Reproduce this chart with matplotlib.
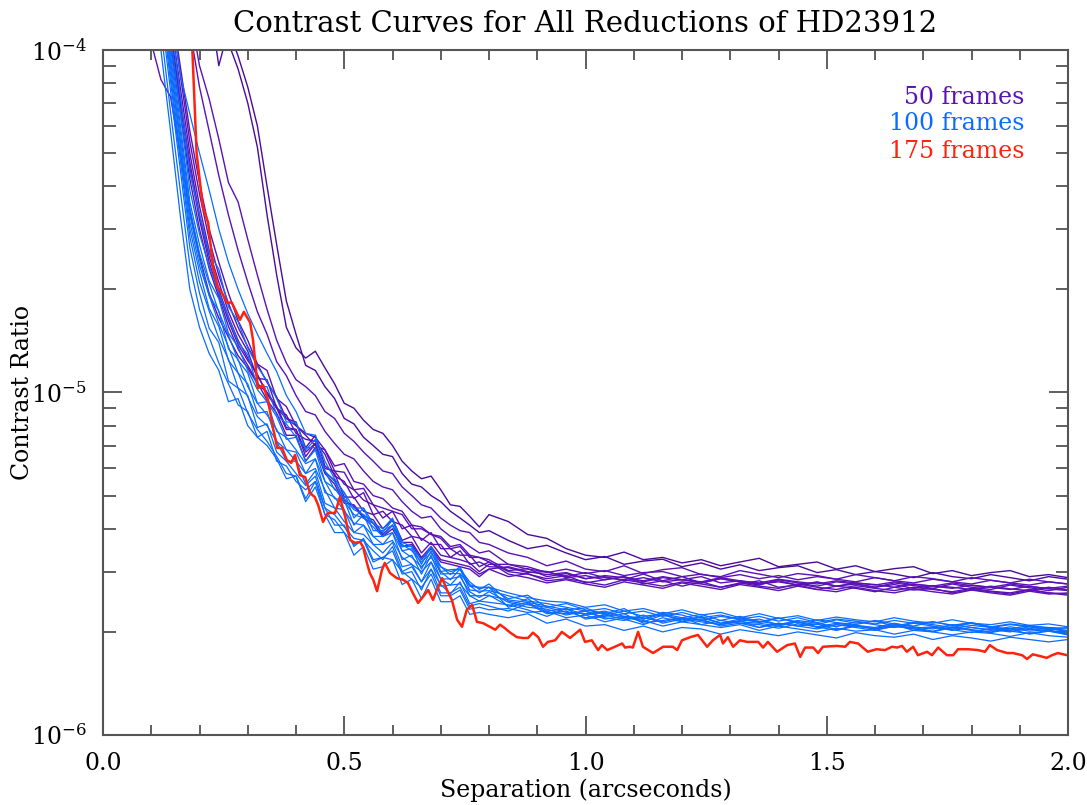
import matplotlib
matplotlib.use("Agg")
import matplotlib.pyplot as plt
import numpy as np
from matplotlib.ticker import FixedLocator, NullFormatter, FixedFormatter

# ---------------- data (contrast in units of 1e-6) ----------------
sep_grid = [0.10, 0.12, 0.14, 0.16, 0.18, 0.20, 0.22, 0.24, 0.26, 0.28, 0.30, 0.32,
            0.34, 0.36, 0.38, 0.40, 0.42, 0.44, 0.46, 0.48, 0.50, 0.52, 0.54, 0.56,
            0.58, 0.60, 0.62, 0.64, 0.66, 0.68, 0.70, 0.72, 0.74, 0.76, 0.78, 0.80,
            0.84, 0.88, 0.92, 0.96, 1.00, 1.04, 1.08, 1.12, 1.16, 1.20, 1.24, 1.28,
            1.32, 1.36, 1.40, 1.44, 1.48, 1.52, 1.56, 1.60, 1.64, 1.68, 1.72, 1.76,
            1.80, 1.84, 1.88, 1.92, 1.96, 2.00]

# 50 frames reductions
p50_01 = [500, 450, 400, 350, 300, 250, 200, 150, 105, 88, 70, 52, 33, 22, 15.5, 13.5, 12.6, 13.2, 11.8, 10.6, 9.3, 9.0, 8.3, 7.8, 7.6, 7.0, 6.3, 5.9, 5.6, 5.7, 5.2, 4.7, 4.65, 4.35, 4.05, 4.4,
          4.2, 3.85, 3.75, 3.5, 3.35, 3.3, 3.42, 3.25, 3.3, 3.18, 3.25, 3.12, 3.2, 3.28, 3.1, 3.15, 3.2, 3.05, 3.12, 3.0, 3.06, 3.1, 2.96, 3.02, 2.92, 2.98, 3.02, 2.9, 2.94, 2.88]
p50_02 = [500, 450, 400, 330, 260, 200, 140, 90, 115, 96, 78, 60, 40, 27, 18.5, 14.8, 12.0, 11.6, 10.4, 9.6, 8.4, 8.1, 7.4, 7.0, 6.6, 6.5, 5.8, 5.4, 5.3, 5.0, 4.8, 4.5, 4.3, 4.1, 3.9, 3.95,
          3.7, 3.5, 3.58, 3.4, 3.25, 3.32, 3.15, 3.22, 3.26, 3.1, 3.18, 3.05, 3.14, 3.02, 3.08, 3.12, 2.98, 3.04, 2.94, 3.0, 2.95, 2.88, 2.98, 2.9, 2.86, 2.94, 2.88, 2.82, 2.9, 2.85]
p50_03 = [400, 320, 250, 190, 130, 90, 72, 55, 41, 36, 28, 22, 17.5, 14.2, 12.2, 10.9, 10.4, 9.8, 8.8, 8.4, 7.6, 7.2, 6.7, 6.3, 5.9, 5.8, 5.3, 5.0, 4.7, 4.6, 4.3, 4.1, 3.95, 3.9, 3.65, 3.6,
          3.4, 3.3, 3.12, 3.22, 3.05, 3.0, 3.12, 2.96, 3.04, 3.08, 2.94, 2.9, 3.02, 2.95, 2.88, 2.96, 2.92, 2.85, 2.94, 2.88, 2.82, 2.9, 2.86, 2.8, 2.88, 2.83, 2.78, 2.85, 2.8, 2.76]
p50_04 = [350, 280, 210, 160, 115, 78, 58, 43, 33, 26, 21, 17.2, 14.8, 12.3, 11.2, 9.8, 8.8, 8.6, 7.7, 7.1, 6.6, 6.4, 5.9, 5.5, 5.3, 5.2, 4.8, 4.5, 4.3, 4.35, 4.0, 3.8, 3.7, 3.55, 3.4, 3.45,
          3.15, 3.05, 3.0, 2.9, 2.98, 2.88, 2.84, 2.95, 2.82, 2.9, 2.78, 2.86, 2.8, 2.74, 2.84, 2.78, 2.72, 2.8, 2.76, 2.7, 2.78, 2.73, 2.68, 2.76, 2.7, 2.66, 2.74, 2.69, 2.64, 2.7]
p50_05 = [105, 82, 73, 50, 34, 25, 19.5, 16.5, 14.5, 12.8, 11.8, 10.6, 10.0, 9.0, 8.4, 8.0, 7.5, 7.0, 6.8, 6.1, 6.2, 5.5, 5.4, 5.0, 4.9, 4.6, 4.5, 4.1, 4.05, 3.85, 3.8, 3.55, 3.6, 3.35, 3.3, 3.2,
          3.0, 2.95, 2.86, 2.92, 2.78, 2.84, 2.9, 2.76, 2.82, 2.72, 2.8, 2.7, 2.76, 2.82, 2.7, 2.74, 2.66, 2.72, 2.68, 2.62, 2.7, 2.65, 2.68, 2.6, 2.66, 2.62, 2.58, 2.65, 2.6, 2.56]
p50_06 = [250, 170, 110, 70, 45, 32, 24, 19.5, 16.2, 13.8, 12.4, 11.3, 9.9, 9.0, 7.8, 7.8, 6.7, 7.1, 6.0, 5.9, 5.4, 5.2, 4.85, 4.7, 4.3, 4.5, 4.0, 4.1, 3.7, 3.9, 3.5, 3.5, 3.35, 3.35, 3.1, 3.2,
          2.95, 2.88, 2.78, 2.84, 2.76, 2.7, 2.8, 2.74, 2.68, 2.78, 2.72, 2.66, 2.75, 2.7, 2.64, 2.72, 2.66, 2.62, 2.7, 2.64, 2.6, 2.67, 2.62, 2.58, 2.65, 2.6, 2.56, 2.63, 2.58, 2.6]
p50_07 = [280, 190, 125, 78, 50, 35, 26, 21, 17.2, 14.8, 13.2, 11.0, 10.9, 9.0, 8.6, 7.6, 7.3, 7.2, 6.6, 5.7, 5.5, 4.9, 5.1, 4.4, 4.5, 4.2, 4.1, 3.8, 3.75, 3.6, 3.6, 3.3, 3.45, 3.15, 3.2, 3.1,
          3.08, 2.98, 3.0, 2.88, 2.92, 2.84, 2.9, 2.8, 2.88, 2.84, 2.78, 2.86, 2.8, 2.76, 2.82, 2.74, 2.8, 2.72, 2.78, 2.75, 2.7, 2.76, 2.72, 2.68, 2.74, 2.7, 2.66, 2.72, 2.67, 2.64]
p50_08 = [300, 200, 135, 85, 54, 38, 28, 22, 18.2, 15.5, 13.6, 12.1, 10.7, 9.7, 8.4, 8.2, 6.9, 7.5, 6.1, 5.8, 4.95, 4.95, 4.5, 4.4, 4.0, 4.25, 3.7, 3.8, 3.4, 3.65, 3.35, 3.3, 3.25, 3.18, 3.0, 3.15,
          3.15, 3.1, 2.98, 3.05, 2.96, 3.02, 2.92, 2.98, 3.0, 2.9, 2.95, 2.88, 2.94, 2.86, 2.92, 2.84, 2.9, 2.85, 2.8, 2.88, 2.82, 2.78, 2.85, 2.8, 2.76, 2.83, 2.78, 2.74, 2.8, 2.76]
p50_09 = [230, 160, 105, 66, 42, 30, 23, 19, 15.6, 13.4, 12.0, 10.7, 9.5, 8.7, 7.5, 7.5, 6.3, 6.9, 5.8, 5.4, 4.75, 4.7, 4.35, 4.25, 3.85, 4.1, 3.65, 3.65, 3.3, 3.55, 3.25, 3.2, 3.15, 3.1, 2.95, 3.05,
          2.9, 2.96, 2.82, 2.86, 2.8, 2.74, 2.84, 2.78, 2.72, 2.8, 2.76, 2.7, 2.78, 2.72, 2.68, 2.76, 2.7, 2.66, 2.73, 2.68, 2.64, 2.7, 2.66, 2.62, 2.68, 2.63, 2.6, 2.66, 2.6, 2.58]
p50_10 = [320, 210, 140, 90, 58, 41, 30, 24, 19.5, 16.2, 14.2, 12.1, 11.6, 9.6, 9.1, 8.0, 7.6, 7.4, 6.8, 5.9, 5.85, 5.2, 5.25, 4.7, 4.6, 4.5, 4.4, 4.0, 4.0, 3.85, 3.75, 3.5, 3.55, 3.3, 3.3, 3.25,
          3.02, 3.06, 2.9, 2.96, 2.86, 2.9, 2.82, 2.88, 2.8, 2.84, 2.9, 2.78, 2.82, 2.76, 2.8, 2.74, 2.79, 2.72, 2.76, 2.7, 2.75, 2.68, 2.73, 2.7, 2.66, 2.72, 2.67, 2.64, 2.7, 2.65]
p50_11 = [260, 175, 115, 72, 47, 33, 25, 20, 16.6, 14.2, 12.6, 11.2, 10.0, 9.1, 7.9, 7.8, 6.5, 7.1, 5.85, 5.55, 4.85, 4.65, 4.3, 4.15, 3.8, 4.0, 3.55, 3.6, 3.25, 3.5, 3.2, 3.15, 3.1, 3.05, 2.9, 3.05,
          3.1, 3.0, 2.94, 2.98, 2.86, 2.92, 2.88, 2.82, 2.9, 2.84, 2.8, 2.88, 2.82, 2.78, 2.85, 2.8, 2.76, 2.82, 2.78, 2.74, 2.8, 2.75, 2.72, 2.78, 2.73, 2.7, 2.76, 2.71, 2.68, 2.72]

# 100 frames reductions
p100_01 = [200, 100, 58, 33, 20, 15.5, 13.0, 11.6, 9.4, 9.6, 8.0, 7.4, 7.0, 6.4, 5.6, 5.7, 4.8, 5.3, 4.4, 3.9, 3.9, 3.35, 3.55, 3.05, 3.1, 3.25, 2.75, 2.85, 2.5, 2.85, 2.45, 2.45, 2.55, 2.25, 2.28, 2.25,
           2.2, 2.26, 2.12, 2.18, 2.08, 2.1, 2.02, 2.08, 2.0, 2.06, 2.04, 1.97, 2.03, 1.99, 1.95, 2.0, 1.96, 1.92, 1.99, 1.95, 1.93, 1.97, 1.9, 1.95, 1.92, 1.88, 1.93, 1.9, 1.87, 1.9]
p100_02 = [230, 115, 66, 39, 23.5, 17.5, 14.5, 12.2, 10.6, 9.2, 8.8, 7.4, 7.7, 6.3, 6.1, 5.5, 5.2, 5.5, 4.4, 4.25, 3.9, 3.6, 3.7, 3.2, 3.3, 3.25, 3.0, 2.85, 2.7, 2.95, 2.55, 2.55, 2.65, 2.33, 2.36, 2.32,
           2.34, 2.28, 2.3, 2.2, 2.24, 2.14, 2.2, 2.16, 2.08, 2.14, 2.1, 2.06, 2.1, 2.02, 2.08, 2.04, 2.0, 2.05, 2.01, 2.03, 1.97, 2.02, 2.0, 1.96, 2.0, 1.98, 1.94, 1.99, 1.95, 1.93]
p100_03 = [260, 130, 76, 45, 26.5, 19.5, 15.4, 14.0, 10.8, 10.3, 8.7, 7.8, 7.2, 6.5, 5.8, 5.7, 4.9, 5.5, 4.6, 4.1, 4.1, 3.55, 3.75, 3.25, 3.3, 3.45, 2.95, 3.0, 2.65, 3.05, 2.6, 2.6, 2.7, 2.38, 2.42, 2.38,
           2.3, 2.42, 2.26, 2.3, 2.2, 2.24, 2.18, 2.1, 2.2, 2.14, 2.18, 2.08, 2.12, 2.1, 2.05, 2.11, 2.07, 2.02, 2.08, 2.05, 2.1, 2.02, 2.06, 2.03, 1.99, 2.05, 2.01, 1.98, 2.02, 1.97]
p100_04 = [280, 140, 81, 48, 28.5, 21, 17.3, 14.4, 12.5, 10.3, 9.8, 7.9, 8.1, 6.7, 6.3, 5.8, 5.35, 5.7, 4.6, 4.4, 4.05, 3.75, 3.7, 3.45, 3.25, 3.55, 3.0, 3.1, 2.8, 3.05, 2.75, 2.58, 2.8, 2.42, 2.46, 2.44,
           2.4, 2.32, 2.22, 2.34, 2.18, 2.22, 2.26, 2.12, 2.16, 2.2, 2.1, 2.16, 2.12, 2.06, 2.12, 2.08, 2.11, 2.03, 2.09, 2.04, 2.07, 2.06, 2.01, 2.07, 2.03, 2.0, 2.05, 2.01, 2.03, 1.96]
p100_05 = [290, 146, 85, 50, 30, 22.5, 17.6, 15.6, 12.4, 11.4, 9.7, 8.5, 8.0, 7.2, 6.3, 6.3, 5.4, 5.9, 4.75, 4.6, 4.2, 3.9, 3.85, 3.6, 3.4, 3.65, 3.1, 3.15, 2.8, 3.2, 2.72, 2.74, 2.76, 2.55, 2.46, 2.55,
           2.48, 2.44, 2.38, 2.32, 2.35, 2.24, 2.3, 2.22, 2.26, 2.2, 2.25, 2.16, 2.22, 2.14, 2.2, 2.12, 2.17, 2.13, 2.1, 2.16, 2.11, 2.08, 2.14, 2.09, 2.12, 2.06, 2.1, 2.07, 2.03, 2.06]
p100_06 = [300, 152, 89, 53, 31.5, 23.5, 19.2, 15.9, 13.6, 11.4, 10.6, 8.7, 8.8, 7.2, 6.8, 6.3, 5.8, 6.0, 5.2, 4.6, 4.55, 3.9, 4.1, 3.6, 3.6, 3.7, 3.3, 3.15, 3.0, 3.2, 2.86, 2.74, 2.94, 2.55, 2.55, 2.56,
           2.38, 2.5, 2.3, 2.34, 2.24, 2.28, 2.2, 2.18, 2.25, 2.15, 2.22, 2.12, 2.15, 2.18, 2.1, 2.14, 2.07, 2.12, 2.09, 2.06, 2.12, 2.07, 2.04, 2.1, 2.06, 2.02, 2.07, 2.03, 2.05, 2.0]
p100_07 = [320, 160, 93, 55, 33, 24.5, 19.2, 17.3, 13.4, 12.5, 10.4, 9.3, 8.6, 7.8, 6.8, 6.7, 5.8, 6.4, 5.1, 4.95, 4.5, 4.15, 4.1, 3.8, 3.6, 3.9, 3.25, 3.35, 2.95, 3.35, 2.85, 2.86, 2.9, 2.62, 2.52, 2.62,
           2.44, 2.36, 2.33, 2.24, 2.3, 2.2, 2.16, 2.24, 2.12, 2.18, 2.14, 2.1, 2.16, 2.06, 2.12, 2.08, 2.04, 2.1, 2.06, 2.02, 2.08, 2.04, 2.0, 2.06, 2.02, 1.99, 2.04, 1.97, 2.01, 1.96]
p100_08 = [330, 166, 97, 58, 34.5, 25.5, 20.8, 17.2, 14.7, 12.4, 11.4, 9.3, 9.4, 7.7, 7.4, 6.8, 6.2, 6.4, 5.5, 4.9, 4.85, 4.1, 4.4, 3.8, 3.8, 3.9, 3.45, 3.3, 3.1, 3.3, 3.0, 2.84, 3.05, 2.65, 2.63, 2.64,
           2.55, 2.46, 2.42, 2.36, 2.3, 2.34, 2.26, 2.3, 2.22, 2.28, 2.2, 2.24, 2.18, 2.22, 2.15, 2.2, 2.13, 2.18, 2.15, 2.11, 2.16, 2.12, 2.14, 2.09, 2.13, 2.07, 2.11, 2.08, 2.06, 2.05]
p100_09 = [350, 175, 102, 61, 36, 27, 21.2, 18.8, 14.9, 13.6, 11.6, 10.2, 9.4, 8.5, 7.3, 7.4, 6.3, 6.8, 5.5, 5.25, 4.8, 4.4, 4.3, 4.05, 3.8, 4.1, 3.45, 3.5, 3.05, 3.45, 2.95, 2.96, 2.96, 2.73, 2.6, 2.7,
           2.5, 2.56, 2.36, 2.42, 2.32, 2.26, 2.34, 2.18, 2.28, 2.24, 2.16, 2.22, 2.18, 2.13, 2.19, 2.14, 2.1, 2.17, 2.12, 2.15, 2.08, 2.13, 2.1, 2.06, 2.12, 2.07, 2.04, 2.09, 2.05, 2.02]
p100_10 = [380, 190, 110, 66, 39, 29, 23.4, 19.6, 16.6, 14.0, 12.9, 10.4, 10.4, 8.6, 8.1, 7.4, 6.9, 6.9, 5.9, 5.2, 5.1, 4.3, 4.6, 3.95, 3.95, 4.1, 3.6, 3.45, 3.2, 3.4, 3.1, 2.94, 3.1, 2.72, 2.7, 2.7,
           2.6, 2.52, 2.46, 2.44, 2.36, 2.4, 2.3, 2.34, 2.26, 2.32, 2.24, 2.28, 2.2, 2.26, 2.19, 2.23, 2.16, 2.21, 2.17, 2.14, 2.2, 2.15, 2.12, 2.17, 2.12, 2.1, 2.14, 2.09, 2.11, 2.07]
p100_11 = [420, 215, 125, 74, 44, 33, 25.6, 22.9, 17.8, 16.1, 13.5, 11.9, 10.8, 9.6, 8.2, 8.2, 6.8, 7.3, 5.9, 5.5, 4.9, 4.55, 4.4, 4.15, 3.9, 4.25, 3.55, 3.55, 3.15, 3.55, 3.0, 3.04, 3.05, 2.8, 2.66, 2.76,
           2.46, 2.4, 2.36, 2.28, 2.26, 2.3, 2.22, 2.14, 2.24, 2.18, 2.2, 2.12, 2.18, 2.15, 2.1, 2.16, 2.12, 2.07, 2.14, 2.1, 2.06, 2.12, 2.08, 2.04, 2.09, 2.06, 2.02, 2.07, 2.04, 2.01]
p100_12 = [500, 260, 140, 85, 65, 50, 39, 30, 24, 20, 17, 14.8, 13, 11.5, 9.8, 8.8, 7.6, 7.5, 6.3, 5.6, 5.1, 4.6, 4.6, 4.15, 4.0, 4.3, 3.65, 3.55, 3.25, 3.55, 3.1, 3.0, 3.05, 2.75, 2.68, 2.7,
           2.36, 2.44, 2.28, 2.26, 2.3, 2.18, 2.22, 2.2, 2.14, 2.2, 2.16, 2.1, 2.14, 2.12, 2.08, 2.14, 2.06, 2.1, 2.08, 2.04, 2.1, 2.05, 2.07, 2.02, 2.06, 2.03, 2.0, 2.05, 2.01, 1.98]

# 175 frames reduction
sep_175 = [0.184, 0.194, 0.207, 0.218, 0.228, 0.238, 0.247, 0.257, 0.267, 0.284, 0.292, 0.305,
           0.311, 0.321, 0.332, 0.342, 0.352, 0.361, 0.371, 0.381, 0.390, 0.398, 0.408, 0.419,
           0.429, 0.439, 0.446, 0.456, 0.466, 0.481, 0.491, 0.502, 0.512, 0.522, 0.533, 0.539,
           0.547, 0.553, 0.560, 0.568, 0.578, 0.584, 0.595, 0.609, 0.622, 0.632, 0.642, 0.653,
           0.663, 0.674, 0.684, 0.692, 0.703, 0.713, 0.723, 0.734, 0.744, 0.754, 0.765, 0.775,
           0.788, 0.802, 0.813, 0.823, 0.833, 0.844, 0.858, 0.870, 0.881, 0.891, 0.902, 0.912,
           0.922, 0.937, 0.951, 0.968, 0.989, 0.999, 1.013, 1.026, 1.034, 1.045, 1.061, 1.076,
           1.082, 1.092, 1.098, 1.109, 1.119, 1.140, 1.161, 1.181, 1.190, 1.200, 1.217, 1.233,
           1.252, 1.264, 1.279, 1.285, 1.295, 1.306, 1.320, 1.335, 1.347, 1.358, 1.368, 1.378,
           1.397, 1.418, 1.434, 1.445, 1.455, 1.472, 1.482, 1.492, 1.521, 1.538, 1.548, 1.565,
           1.585, 1.603, 1.621, 1.635, 1.646, 1.656, 1.666, 1.679, 1.689, 1.708, 1.718, 1.731,
           1.749, 1.762, 1.772, 1.793, 1.813, 1.828, 1.838, 1.853, 1.874, 1.886, 1.905, 1.915,
           1.927, 1.942, 1.956, 1.967, 1.979, 1.998]
c_175 = [110, 50, 34.8, 31.3, 23.3, 20.3, 19.5, 18.3, 18.3, 16.3, 17.2, 16.0,
         14.2, 10.3, 10.5, 9.51, 7.93, 6.89, 6.89, 6.35, 6.23, 6.57, 5.74, 5.66,
         5.09, 4.95, 4.69, 4.19, 4.45, 4.45, 4.95, 4.33, 3.71, 3.64, 3.66, 3.54,
         3.18, 2.97, 2.84, 2.63, 3.03, 3.18, 2.97, 2.87, 2.84, 2.78, 2.60, 2.43,
         2.53, 2.65, 2.48, 2.65, 2.87, 2.65, 2.48, 2.17, 2.07, 2.32, 2.40, 2.14,
         2.12, 2.07, 2.03, 2.10, 2.05, 1.99, 1.93, 1.92, 1.92, 1.99, 1.93, 1.81,
         1.87, 1.89, 2.00, 1.92, 2.03, 1.87, 1.89, 1.77, 1.83, 1.77, 1.81, 1.85,
         1.80, 1.81, 1.80, 2.00, 1.81, 1.735, 1.81, 1.81, 1.77, 1.89, 1.93, 1.96,
         1.81, 1.89, 1.96, 1.85, 1.93, 1.81, 1.89, 1.87, 1.87, 1.87, 1.80, 1.87,
         1.75, 1.83, 1.85, 1.69, 1.80, 1.80, 1.735, 1.81, 1.82, 1.81, 1.87, 1.85,
         1.75, 1.78, 1.77, 1.81, 1.80, 1.82, 1.75, 1.81, 1.71, 1.75, 1.71, 1.80,
         1.71, 1.71, 1.78, 1.78, 1.77, 1.75, 1.83, 1.77, 1.735, 1.735, 1.71, 1.667,
         1.72, 1.70, 1.68, 1.71, 1.735, 1.71]

labels = ["50 frames", "100 frames", "175 frames"]
x_ticks = [0.0, 0.5, 1.0, 1.5, 2.0]
x_ticklabels = ["0.0", "0.5", "1.0", "1.5", "2.0"]

# ---------------- styling ----------------
plt.rcParams['font.family'] = ['DejaVu Serif']
plt.rcParams['mathtext.fontset'] = 'dejavuserif'

col50 = '#5a12b4'
col50_dark = '#4a0a9c'
col100 = '#0a6cff'
col175 = '#ff220c'

fig = plt.figure(figsize=(10.87, 8.05), dpi=100)
ax = fig.add_axes([103/1087, 1-735/805, (1068-103)/1087, (735-50)/805])

scale = 1e-6
xg = np.array(sep_grid)
fam50 = [p50_01, p50_02, p50_03, p50_04, p50_05, p50_06, p50_07, p50_08, p50_09, p50_10, p50_11]
fam100 = [p100_01, p100_02, p100_03, p100_04, p100_05, p100_06, p100_07, p100_08,
          p100_09, p100_10, p100_11, p100_12]
for i, c in enumerate(fam50):
    ax.plot(xg, np.array(c) * scale, color=col50_dark if i < 2 else col50, lw=1.0)
for c in fam100:
    ax.plot(xg, np.array(c) * scale, color=col100, lw=0.9)
ax.plot(sep_175, np.array(c_175) * scale, color=col175, lw=1.8)

ax.set_yscale('log')
ax.set_xlim(0, 2)
ax.set_ylim(1e-6, 1e-4)

ax.xaxis.set_major_locator(FixedLocator(x_ticks))
ax.xaxis.set_major_formatter(FixedFormatter(x_ticklabels))
ax.xaxis.set_minor_locator(FixedLocator(np.arange(0, 2.01, 0.1)))
ax.yaxis.set_major_locator(FixedLocator([1e-6, 1e-5, 1e-4]))
ax.yaxis.set_major_formatter(FixedFormatter([r'$10^{-6}$', r'$10^{-5}$', r'$10^{-4}$']))
minors = [m * 10.0**e for e in (-6, -5) for m in range(2, 10)]
ax.yaxis.set_minor_locator(FixedLocator(minors))
ax.yaxis.set_minor_formatter(NullFormatter())

ax.tick_params(which='both', direction='in', top=True, right=True, color='#444444', width=1.2)
ax.tick_params(which='major', length=14, labelsize=17, pad=12)
ax.tick_params(which='minor', length=7)
ax.tick_params(axis='y', which='minor', length=9)
for s in ax.spines.values():
    s.set_color('#555555')
    s.set_linewidth(1.5)

ax.set_title("Contrast Curves for All Reductions of HD23912", fontsize=21, pad=13)
ax.set_xlabel("Separation (arcseconds)", fontsize=17, labelpad=3)
ax.set_ylabel("Contrast Ratio", fontsize=17)
ax.yaxis.set_label_coords(-0.072, 0.5)

for lab, col, yy in zip(labels, [col50, col100, col175], [0.931, 0.892, 0.852]):
    ax.text(0.955, yy, lab, color=col, fontsize=17, ha='right', va='center', transform=ax.transAxes)

fig.savefig("out.png", dpi=100)
